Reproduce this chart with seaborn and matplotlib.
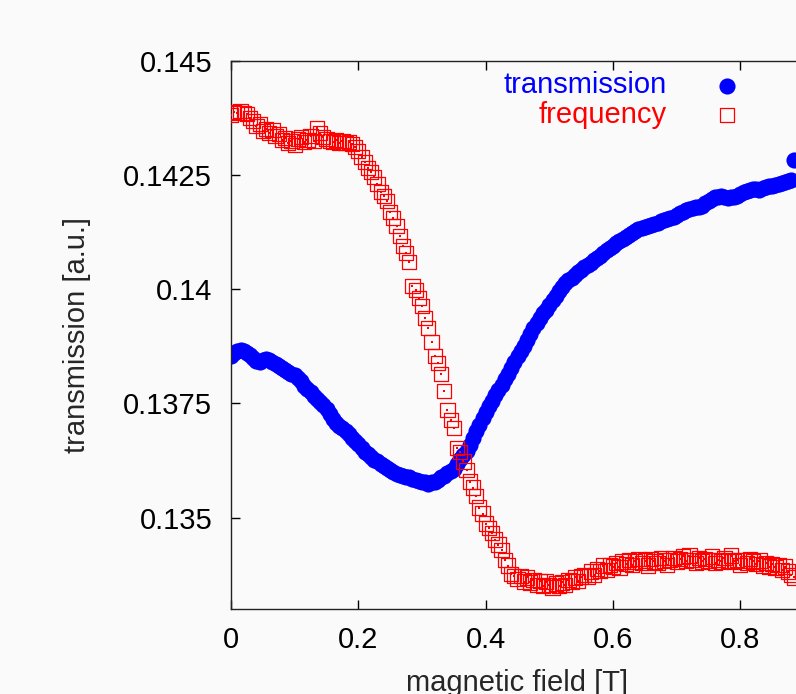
import numpy as np
import pandas as pd
import matplotlib
matplotlib.use("Agg")
import matplotlib.pyplot as plt
import seaborn as sns

# ---- data (field in T, both series on the left scale) ----
field = [
    0.000, 0.005, 0.010, 0.015, 0.020, 0.025, 0.030, 0.035, 0.040, 0.045,
    0.050, 0.055, 0.060, 0.065, 0.070, 0.075, 0.080, 0.085, 0.090, 0.095,
    0.100, 0.105, 0.110, 0.115, 0.120, 0.125, 0.130, 0.135, 0.140, 0.145,
    0.150, 0.155, 0.160, 0.165, 0.170, 0.175, 0.180, 0.185, 0.190, 0.195,
    0.200, 0.205, 0.210, 0.215, 0.220, 0.225, 0.230, 0.235, 0.240, 0.245,
    0.250, 0.255, 0.260, 0.265, 0.270, 0.275, 0.280, 0.285, 0.290, 0.295,
    0.300, 0.305, 0.310, 0.315, 0.320, 0.325, 0.330, 0.335, 0.340, 0.345,
    0.350, 0.355, 0.360, 0.365, 0.370, 0.375, 0.380, 0.385, 0.390, 0.395,
    0.400, 0.405, 0.410, 0.415, 0.420, 0.425, 0.430, 0.435, 0.440, 0.445,
    0.450, 0.455, 0.460, 0.465, 0.470, 0.475, 0.480, 0.485, 0.490, 0.495,
    0.500, 0.505, 0.510, 0.515, 0.520, 0.525, 0.530, 0.535, 0.540, 0.545,
    0.550, 0.555, 0.560, 0.565, 0.570, 0.575, 0.580, 0.585, 0.590, 0.595,
    0.600, 0.605, 0.610, 0.615, 0.620, 0.625, 0.630, 0.635, 0.640, 0.645,
    0.650, 0.655, 0.660, 0.665, 0.670, 0.675, 0.680, 0.685, 0.690, 0.695,
    0.700, 0.705, 0.710, 0.715, 0.720, 0.725, 0.730, 0.735, 0.740, 0.745,
    0.750, 0.755, 0.760, 0.765, 0.770, 0.775, 0.780, 0.785, 0.790, 0.795,
    0.800, 0.805, 0.810, 0.815, 0.820, 0.825, 0.830, 0.835, 0.840, 0.845,
    0.850, 0.855, 0.860, 0.865, 0.870, 0.875, 0.880, 0.885,
]

transmission = [
    0.13854, 0.13861, 0.13865, 0.13868, 0.13865, 0.13861, 0.13857, 0.13850, 0.13844, 0.13841,
    0.13846, 0.13848, 0.13846, 0.13841, 0.13837, 0.13833, 0.13828, 0.13824, 0.13819, 0.13815,
    0.13813, 0.13806, 0.13800, 0.13789, 0.13782, 0.13776, 0.13767, 0.13760, 0.13754, 0.13747,
    0.13739, 0.13728, 0.13717, 0.13708, 0.13701, 0.13697, 0.13690, 0.13684, 0.13675, 0.13668,
    0.13662, 0.13653, 0.13644, 0.13640, 0.13633, 0.13627, 0.13623, 0.13618, 0.13614, 0.13609,
    0.13605, 0.13601, 0.13596, 0.13594, 0.13592, 0.13590, 0.13588, 0.13585, 0.13583, 0.13581,
    0.13579, 0.13577, 0.13574, 0.13579, 0.13577, 0.13583, 0.13588, 0.13592, 0.13598, 0.13603,
    0.13607, 0.13618, 0.13629, 0.13638, 0.13647, 0.13660, 0.13675, 0.13690, 0.13703, 0.13719,
    0.13732, 0.13745, 0.13756, 0.13769, 0.13780, 0.13791, 0.13804, 0.13815, 0.13828, 0.13841,
    0.13854, 0.13865, 0.13876, 0.13890, 0.13903, 0.13916, 0.13927, 0.13938, 0.13949, 0.13955,
    0.13966, 0.13977, 0.13986, 0.13997, 0.14005, 0.14014, 0.14021, 0.14025, 0.14032, 0.14038,
    0.14043, 0.14049, 0.14054, 0.14058, 0.14065, 0.14069, 0.14073, 0.14080, 0.14086, 0.14091,
    0.14095, 0.14102, 0.14106, 0.14111, 0.14115, 0.14119, 0.14124, 0.14128, 0.14132, 0.14135,
    0.14137, 0.14139, 0.14141, 0.14143, 0.14145, 0.14150, 0.14152, 0.14154, 0.14156, 0.14159,
    0.14163, 0.14167, 0.14170, 0.14174, 0.14176, 0.14178, 0.14181, 0.14181, 0.14183, 0.14189,
    0.14194, 0.14198, 0.14202, 0.14202, 0.14205, 0.14202, 0.14200, 0.14202, 0.14202, 0.14205,
    0.14209, 0.14213, 0.14216, 0.14218, 0.14220, 0.14220, 0.14218, 0.14222, 0.14224, 0.14226,
    0.14226, 0.14229, 0.14231, 0.14233, 0.14235, 0.14237, 0.14240, 0.14283,
]

frequency = [
    0.14382, 0.14388, 0.14386, 0.14391, 0.14386, 0.14384, 0.14375, 0.14369, 0.14358, 0.14362,
    0.14347, 0.14351, 0.14342, 0.14349, 0.14336, 0.14340, 0.14327, 0.14332, 0.14321, 0.14325,
    0.14316, 0.14329, 0.14334, 0.14323, 0.14327, 0.14336, 0.14325, 0.14353, 0.14342, 0.14334,
    0.14329, 0.14325, 0.14323, 0.14327, 0.14321, 0.14325, 0.14321, 0.14323, 0.14318, 0.14312,
    0.14303, 0.14290, 0.14279, 0.14266, 0.14257, 0.14246, 0.14231, 0.14213, 0.14205, 0.14194,
    0.14170, 0.14156, 0.14139, 0.14117, 0.14095, 0.14080, 0.14060, 0.14008, 0.13999, 0.13981,
    0.13964, 0.13938, 0.13916, 0.13885, 0.13854, 0.13839, 0.13815, 0.13778, 0.13736, 0.13714,
    0.13697, 0.13653, 0.13644, 0.13623, 0.13605, 0.13579, 0.13566, 0.13548, 0.13522, 0.13509,
    0.13487, 0.13478, 0.13467, 0.13452, 0.13441, 0.13430, 0.13408, 0.13395, 0.13377, 0.13373,
    0.13366, 0.13373, 0.13360, 0.13369, 0.13358, 0.13364, 0.13353, 0.13362, 0.13351, 0.13360,
    0.13353, 0.13347, 0.13356, 0.13351, 0.13358, 0.13353, 0.13364, 0.13360, 0.13369, 0.13362,
    0.13371, 0.13375, 0.13371, 0.13382, 0.13375, 0.13388, 0.13384, 0.13395, 0.13386, 0.13397,
    0.13393, 0.13401, 0.13391, 0.13404, 0.13399, 0.13408, 0.13397, 0.13404, 0.13410, 0.13401,
    0.13406, 0.13395, 0.13410, 0.13404, 0.13401, 0.13412, 0.13406, 0.13397, 0.13408, 0.13412,
    0.13404, 0.13410, 0.13415, 0.13406, 0.13417, 0.13408, 0.13401, 0.13412, 0.13404, 0.13410,
    0.13406, 0.13415, 0.13401, 0.13408, 0.13404, 0.13412, 0.13406, 0.13417, 0.13404, 0.13408,
    0.13397, 0.13406, 0.13401, 0.13410, 0.13404, 0.13399, 0.13406, 0.13395, 0.13401, 0.13393,
    0.13399, 0.13391, 0.13397, 0.13386, 0.13393, 0.13382, 0.13375, 0.13369,
]

xticks = [0.0, 0.2, 0.4, 0.6, 0.8]
xticklabels = ["0", "0.2", "0.4", "0.6", "0.8"]
yticks = [0.135, 0.1375, 0.14, 0.1425, 0.145]
yticklabels = ["0.135", "0.1375", "0.14", "0.1425", "0.145"]

BLUE = "#0000ff"
RED = "#ff0000"
BG = "#fafafa"

# ---- style ----
sns.set_theme(style="ticks")
plt.rcParams["font.family"] = ["Liberation Sans", "DejaVu Sans"]
plt.rcParams["font.size"] = 21

df = pd.DataFrame({"field": field, "transmission": transmission, "frequency": frequency})

fig = plt.figure(figsize=(7.96, 6.94), dpi=100, facecolor=BG)
# axes run a little past the right edge, like the cropped original
ax = fig.add_axes([0.2902, 0.1225, 0.7199, 0.7896])
ax.set_facecolor(BG)

sns.scatterplot(data=df, x="field", y="transmission", ax=ax, color=BLUE,
                s=135, linewidth=0, label="transmission", zorder=2)
sns.scatterplot(data=df, x="field", y="frequency", ax=ax, marker="s",
                color=RED, facecolor="none", edgecolor=RED, s=105,
                linewidth=0.9, label="frequency", zorder=3)
# tiny centre dot of the gnuplot square symbol
sns.scatterplot(data=df, x="field", y="frequency", ax=ax, marker="s",
                color=RED, s=0.8, linewidth=0, legend=False, zorder=3)

ax.set_xlim(0, 0.9)
ax.set_ylim(0.133, 0.145)
ax.set_xticks(xticks)
ax.set_xticklabels(xticklabels)
ax.set_yticks(yticks)
ax.set_yticklabels(yticklabels)

for sp in ax.spines.values():
    sp.set_visible(True)
    sp.set_color("#222222")
    sp.set_linewidth(1.0)

ax.tick_params(direction="in", length=6.5, width=1, colors="black",
               top=True, right=False, labelsize=21)
ax.tick_params(axis="x", pad=12.5)
ax.tick_params(axis="y", pad=13.5)

ax.set_xlabel("magnetic field [T]", fontsize=21)
ax.set_ylabel("transmission [a.u.]", fontsize=21)
ax.xaxis.set_label_coords(0.5, -0.11)
ax.yaxis.set_label_coords(-0.245, 0.5)

leg = ax.legend(loc="upper right", bbox_to_anchor=(0.9685, 0.918),
                bbox_transform=fig.transFigure, frameon=False,
                markerfirst=False, handlelength=2.0, handletextpad=1.07,
                borderpad=0, labelspacing=0.04, scatterpoints=1,
                fontsize=21, labelcolor=[BLUE, RED])

fig.savefig("out.png", dpi=100, facecolor=BG)
